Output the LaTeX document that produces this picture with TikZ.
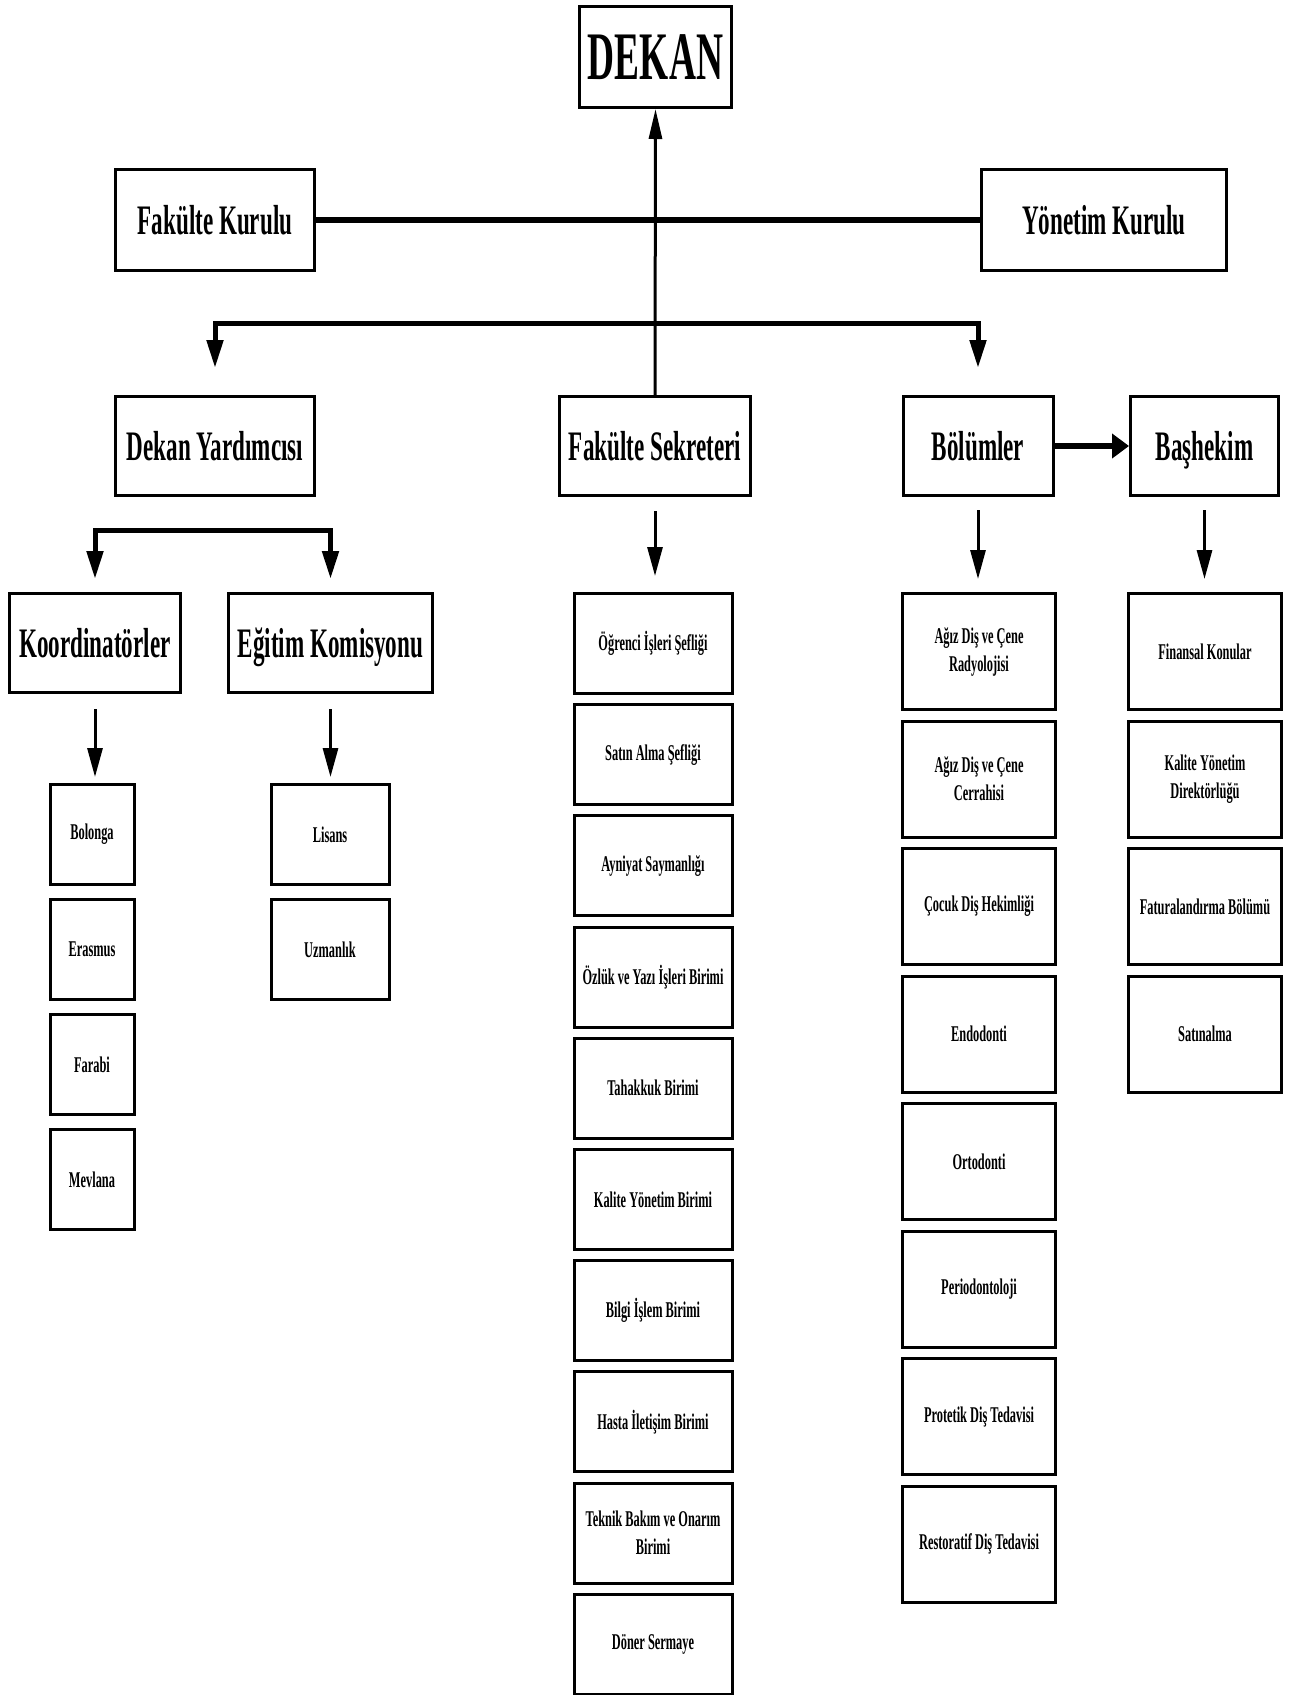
\documentclass[tikz,border=0pt]{standalone}
\usepackage{fontspec}
\setmainfont{Liberation Serif}[FakeStretch=0.55]
\usetikzlibrary{arrows.meta}

\newlength{\du}
\setlength{\du}{1pt}

\tikzset{
  box/.style={draw, line width=3\du, inner sep=0pt, align=center},
  headbox/.style={box, font=\fontsize{68}{76}\selectfont\bfseries},
  midbox/.style={box, minimum height=99\du, text height=37\du, text depth=9\du, font=\fontsize{42}{48}\selectfont\bfseries},
  smallbox/.style={box, font=\fontsize{22.5}{28}\selectfont\bfseries},
  arr/.style={line width=3\du, -{Triangle[length=29pt,width=15pt]}},
  uparr/.style={line width=3\du, -{Triangle[length=30pt,width=13pt]}},
  brarr/.style={line width=5\du, -{Triangle[length=28pt,width=16pt]}},
  bararr/.style={line width=5.5\du, -{Triangle[length=17pt,width=24pt]}},
  bar/.style={line width=6\du}
}

\begin{document}
\begin{tikzpicture}[x=\du,y=-\du]
\useasboundingbox (0,0) rectangle (1290,1695);

% upper levels
\node[headbox, minimum width=152\du, minimum height=101\du] (dekan) at (655.5,57) {DEKAN};
\node[midbox, minimum width=199\du, minimum height=101\du] (fkurul) at (215,220) {Fakülte Kurulu};
\node[midbox, minimum width=245\du, minimum height=101\du] (ykurul) at (1104,220) {Yönetim Kurulu};
\node[midbox, minimum width=199\du] (dyard) at (215,446) {Dekan Yardımcısı};
\node[midbox, minimum width=191\du] (fsekr) at (655,446) {Fakülte Sekreteri};
\node[midbox, minimum width=150\du] (bolum) at (978,446) {Bölümler};
\node[midbox, minimum width=148\du] (bashek) at (1204.5,446) {Başhekim};
\node[midbox, minimum width=171\du] (koord) at (95,643) {Koordinatörler};
\node[midbox, minimum width=204\du] (egitim) at (330.5,643) {Eğitim Komisyonu};

% columns of units
\foreach \txt [count=\i from 0] in {Bolonga,Erasmus,Farabi,Mevlana}
  \node[smallbox, minimum width=84\du, minimum height=100\du] (koord\i) at (92,{834.5+115*\i}) {\txt};
\foreach \txt [count=\i from 0] in {Lisans,Uzmanlık}
  \node[smallbox, minimum width=118\du, minimum height=100\du] (egitim\i) at (330,{834.5+115*\i}) {\txt};
\foreach \txt [count=\i from 0] in {Öğrenci İşleri Şefliği,Satın Alma Şefliği,Ayniyat Saymanlığı,
    Özlük ve Yazı İşleri Birimi,Tahakkuk Birimi,Kalite Yönetim Birimi,Bilgi İşlem Birimi,
    Hasta İletişim Birimi,{Teknik Bakım ve Onarım\\Birimi},Döner Sermaye}
  \node[smallbox, minimum width=158\du, minimum height=100\du] (fsekr\i) at (653,{643.5+111.2*\i}) {\txt};
\foreach \txt [count=\i from 0] in {{Ağız Diş ve Çene\\Radyolojisi},{Ağız Diş ve Çene\\Cerrahisi},
    Çocuk Diş Hekimliği,Endodonti,Ortodonti,Periodontoloji,Protetik Diş Tedavisi,Restoratif Diş Tedavisi}
  \node[smallbox, minimum width=153\du, minimum height=116\du] (bolum\i) at (979,{651.5+127.5*\i}) {\txt};
\foreach \txt [count=\i from 0] in {Finansal Konular,{Kalite Yönetim\\Direktörlüğü},Faturalandırma Bölümü,Satınalma}
  \node[smallbox, minimum width=153\du, minimum height=116\du] (bashek\i) at (1205,{651.5+127.5*\i}) {\txt};

% connectors
\draw[uparr] (fsekr.north) -- (dekan.south);
\draw[bar] (fkurul.east) -- (ykurul.west);
\coordinate (split) at (655,323);
\draw[brarr, shorten >=27\du] (split) -| (dyard.north);
\draw[brarr, shorten >=27\du] (split) -| (bolum.north);
\coordinate (dsplit) at (215,530);
\draw[brarr, shorten >=13\du] (dsplit) -| (koord.north);
\draw[brarr, shorten >=13\du] (dsplit) -| (egitim.north);
\draw[bararr] (bolum.east) -- (bashek.west);
\draw[arr, shorten <=14\du, shorten >=16\du] (fsekr.south) -- (fsekr.south |- fsekr0.north);
\draw[arr, shorten <=13\du, shorten >=13\du] (bolum.south) -- (bolum.south |- bolum0.north);
\draw[arr, shorten <=13\du, shorten >=13\du] (bashek.south) -- (bashek.south |- bashek0.north);
\draw[arr, shorten <=15\du, shorten >=6\du] (koord.south) -- (koord.south |- koord0.north);
\draw[arr, shorten <=15\du, shorten >=6\du] (egitim.south) -- (egitim.south |- egitim0.north);
\end{tikzpicture}
\end{document}
